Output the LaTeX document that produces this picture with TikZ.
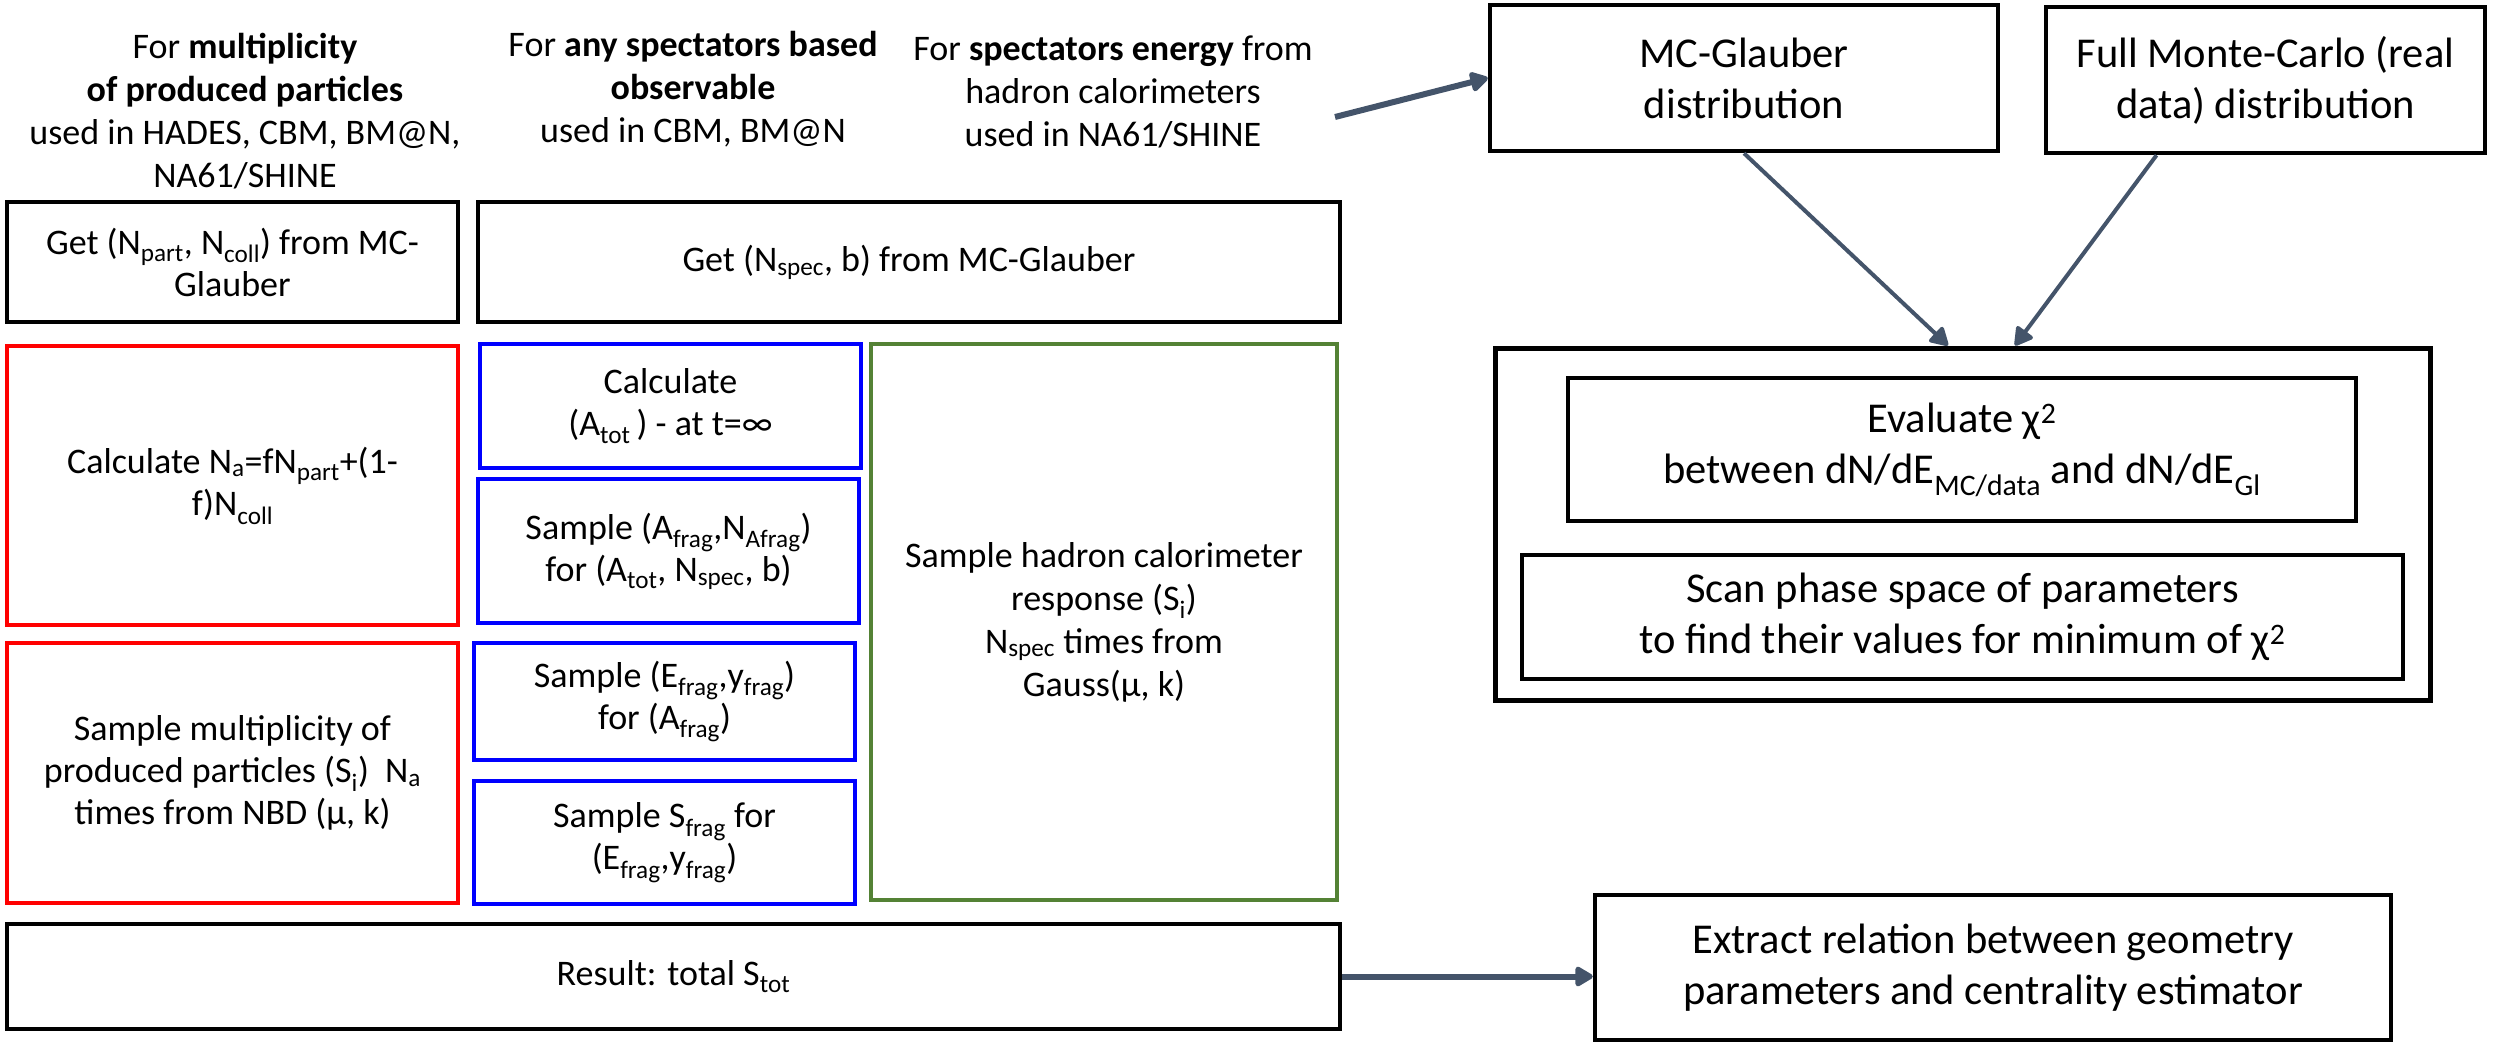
\documentclass[tikz,border=0pt]{standalone}
\usepackage{fontspec}
\setmainfont{Carlito}
\usetikzlibrary{arrows.meta,calc}
\definecolor{arr}{HTML}{44546A}
\definecolor{grn}{HTML}{548235}
\newcommand{\sbs}[1]{\textsubscript{#1}}
\newcommand{\sps}[1]{\textsuperscript{#1}}
\begin{document}
\begin{tikzpicture}[x=1pt,y=-1pt,
  lbox/.style={draw=black,line width=4.5pt,inner sep=0pt,align=center,font=\fontsize{36}{42}\selectfont},
  rbox/.style={lbox,draw=red,line width=4pt},
  bbox/.style={lbox,draw=blue,line width=4pt},
  gbox/.style={lbox,draw=grn,line width=3.5pt,font=\fontsize{36}{43}\selectfont},
  kbox/.style={lbox,font=\fontsize{42.5}{51}\selectfont},
  hdr/.style={align=center,inner sep=0pt,font=\fontsize{36}{43}\selectfont},
  conn/.style={draw=arr,line width=#1,-{Triangle[length=20pt,width=22pt,round]}},
  conn/.default=4pt]
\useasboundingbox (0,0) rectangle (2509,1052);

% headers
\node[hdr] (h1) at (245,111) {For \textbf{multiplicity}\\\textbf{of produced particles}\\used in HADES, CBM, BM@N,\\NA61/SHINE};
\node[hdr] (h2) at (693,89) {For \textbf{any spectators based}\\\textbf{observable}\\used in CBM, BM@N};
\node[hdr] (h3) at (1113,92) {For \textbf{spectators energy} from\\hadron calorimeters\\used in NA61/SHINE};

% left part
\node[lbox,minimum width=451,minimum height=120] (getN) at (232.5,262) {Get (N\sbs{part}, N\sbs{coll}) from MC-\\Glauber};
\node[lbox,minimum width=862,minimum height=120] (getS) at (909,262) {Get (N\sbs{spec}, b) from MC-Glauber};
\node[rbox,minimum width=451,minimum height=279] (red1) at (232.5,485.5) {Calculate N\sbs{a}=fN\sbs{part}+(1-\\f)N\sbs{coll}};
\node[rbox,minimum width=451,minimum height=260] (red2) at (232.5,773) {Sample multiplicity of\\produced particles (S\sbs{i})\ \ N\sbs{a}\\times from NBD (μ, k)};
\node[bbox,minimum width=381,minimum height=124] (blue1) at (670.5,406) {Calculate\\(A\sbs{tot}\,) - at t=∞};
\node[bbox,minimum width=381,minimum height=144] (blue2) at (668.5,551) {Sample (A\sbs{frag},N\sbs{Afrag})\\for (A\sbs{tot}, N\sbs{spec}, b)};
\node[bbox,minimum width=381,minimum height=117] (blue3) at (664.5,701.5) {Sample (E\sbs{frag},y\sbs{frag})\\for (A\sbs{frag})};
\node[bbox,minimum width=381,minimum height=123] (blue4) at (664.5,842.5) {Sample S\sbs{frag} for\\(E\sbs{frag},y\sbs{frag})};
\node[gbox,minimum width=466,minimum height=556] (green) at (1104,622) {Sample hadron calorimeter\\response (S\sbs{i})\\N\sbs{spec} times from\\Gauss(μ, k)};
\node[lbox,minimum width=1333,minimum height=105] (result) at (673.5,976.5) {Result: total S\sbs{tot}};

% right part
\node[kbox,minimum width=508,minimum height=146] (mcg) at (1744,78) {MC-Glauber\\distribution};
\node[kbox,minimum width=439,minimum height=146] (fullmc) at (2265.5,80) {Full Monte-Carlo (real\\data) distribution};
\node[lbox,line width=5pt,minimum width=935,minimum height=352] (outer) at (1962.5,524) {};
\node[kbox,line width=4pt,minimum width=788,minimum height=143] (eval) at (1962,449.5) {Evaluate χ\sps{2}\\between dN/dE\sbs{MC/data} and dN/dE\sbs{Gl}};
\node[kbox,line width=4pt,minimum width=881,minimum height=124] (scan) at (1962.5,617) {Scan phase space of parameters\\to find their values for minimum of χ\sps{2}};
\node[kbox,minimum width=796,minimum height=145] (extract) at (1993,967.5) {Extract relation between geometry\\parameters and centrality estimator};

% connectors
\coordinate (s1) at (1335,117);
\draw[conn=6pt] (s1) -- (mcg.west);
\draw[conn] (mcg.south) -- ($(outer.north)+(-14.5,0)$);
\draw[conn] ($(fullmc.south)+(-109,0)$) -- ($(outer.north)+(52.5,0)$);
\draw[conn=6pt] (result.east) -- (result.east -| extract.west);
\end{tikzpicture}
\end{document}
